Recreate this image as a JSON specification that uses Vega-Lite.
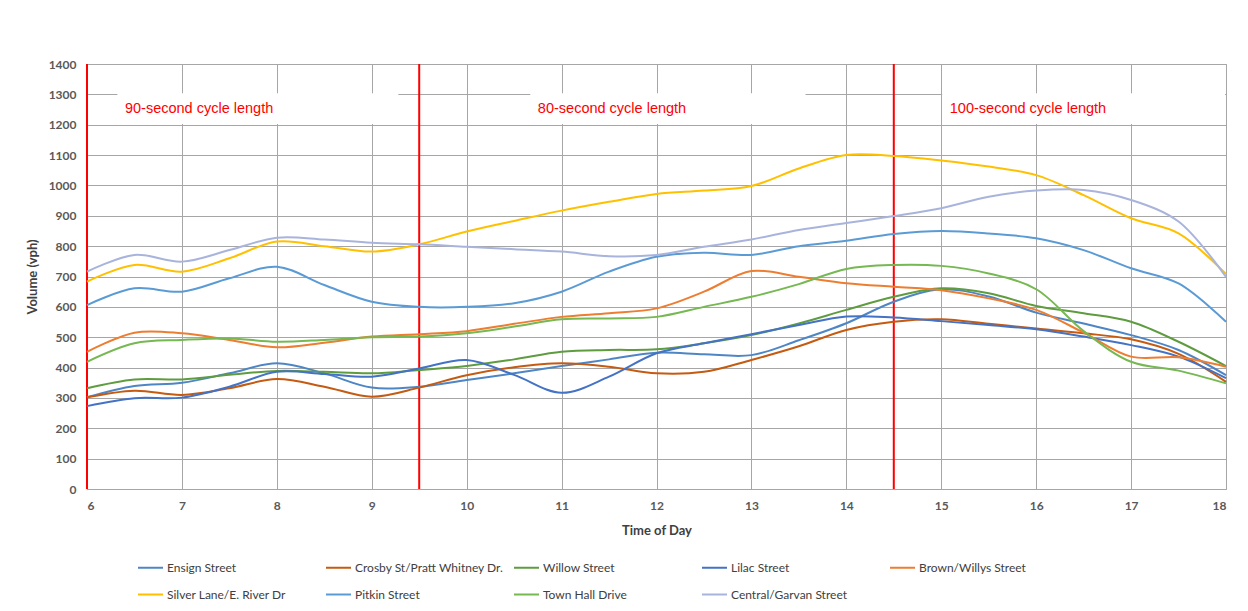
{
  "$schema": "https://vega.github.io/schema/vega-lite/v6.json",
  "width": 1139,
  "height": 425,
  "autosize": {"type": "none"},
  "padding": {"left": 87, "top": 64, "right": 22, "bottom": 122},
  "background": "white",
  "config": {
    "font": "Lato",
    "view": {"stroke": "#a6a6a6", "strokeWidth": 1},
    "axis": {
      "grid": true,
      "gridColor": "#a6a6a6",
      "gridWidth": 1,
      "ticks": false,
      "domain": false,
      "labelFont": "Lato",
      "labelFontWeight": "bold",
      "labelFontSize": 12,
      "labelColor": "#595959",
      "titleFont": "Lato",
      "titleFontWeight": "bold",
      "titleFontSize": 13,
      "titleColor": "#404040"
    },
    "axisX": {"tickCount": 12, "labelPadding": 11, "titlePadding": 13},
    "axisY": {"tickCount": 14, "labelPadding": 11, "titlePadding": 9}
  },
  "datasets": {
    "series": [
      {"s":"Ensign Street","t":6,"v":302},{"s":"Ensign Street","t":6.5,"v":339},{"s":"Ensign Street","t":7,"v":350},{"s":"Ensign Street","t":7.5,"v":381},{"s":"Ensign Street","t":8,"v":414},{"s":"Ensign Street","t":8.5,"v":381},{"s":"Ensign Street","t":9,"v":334},{"s":"Ensign Street","t":9.5,"v":337},{"s":"Ensign Street","t":10,"v":359},{"s":"Ensign Street","t":10.5,"v":381},{"s":"Ensign Street","t":11,"v":405},{"s":"Ensign Street","t":11.5,"v":427},{"s":"Ensign Street","t":12,"v":449},{"s":"Ensign Street","t":12.5,"v":444},{"s":"Ensign Street","t":13,"v":441},{"s":"Ensign Street","t":13.5,"v":490},{"s":"Ensign Street","t":14,"v":546},{"s":"Ensign Street","t":14.5,"v":617},{"s":"Ensign Street","t":15,"v":658},{"s":"Ensign Street","t":15.5,"v":634},{"s":"Ensign Street","t":16,"v":581},{"s":"Ensign Street","t":16.5,"v":545},{"s":"Ensign Street","t":17,"v":507},{"s":"Ensign Street","t":17.5,"v":458},{"s":"Ensign Street","t":18,"v":375},
      {"s":"Crosby St/Pratt Whitney Dr.","t":6,"v":302},{"s":"Crosby St/Pratt Whitney Dr.","t":6.5,"v":324},{"s":"Crosby St/Pratt Whitney Dr.","t":7,"v":310},{"s":"Crosby St/Pratt Whitney Dr.","t":7.5,"v":332},{"s":"Crosby St/Pratt Whitney Dr.","t":8,"v":362},{"s":"Crosby St/Pratt Whitney Dr.","t":8.5,"v":337},{"s":"Crosby St/Pratt Whitney Dr.","t":9,"v":304},{"s":"Crosby St/Pratt Whitney Dr.","t":9.5,"v":334},{"s":"Crosby St/Pratt Whitney Dr.","t":10,"v":375},{"s":"Crosby St/Pratt Whitney Dr.","t":10.5,"v":401},{"s":"Crosby St/Pratt Whitney Dr.","t":11,"v":414},{"s":"Crosby St/Pratt Whitney Dr.","t":11.5,"v":403},{"s":"Crosby St/Pratt Whitney Dr.","t":12,"v":381},{"s":"Crosby St/Pratt Whitney Dr.","t":12.5,"v":386},{"s":"Crosby St/Pratt Whitney Dr.","t":13,"v":425},{"s":"Crosby St/Pratt Whitney Dr.","t":13.5,"v":470},{"s":"Crosby St/Pratt Whitney Dr.","t":14,"v":524},{"s":"Crosby St/Pratt Whitney Dr.","t":14.5,"v":551},{"s":"Crosby St/Pratt Whitney Dr.","t":15,"v":559},{"s":"Crosby St/Pratt Whitney Dr.","t":15.5,"v":544},{"s":"Crosby St/Pratt Whitney Dr.","t":16,"v":529},{"s":"Crosby St/Pratt Whitney Dr.","t":16.5,"v":513},{"s":"Crosby St/Pratt Whitney Dr.","t":17,"v":493},{"s":"Crosby St/Pratt Whitney Dr.","t":17.5,"v":445},{"s":"Crosby St/Pratt Whitney Dr.","t":18,"v":353},
      {"s":"Willow Street","t":6,"v":332},{"s":"Willow Street","t":6.5,"v":361},{"s":"Willow Street","t":7,"v":361},{"s":"Willow Street","t":7.5,"v":376},{"s":"Willow Street","t":8,"v":389},{"s":"Willow Street","t":8.5,"v":386},{"s":"Willow Street","t":9,"v":381},{"s":"Willow Street","t":9.5,"v":392},{"s":"Willow Street","t":10,"v":405},{"s":"Willow Street","t":10.5,"v":427},{"s":"Willow Street","t":11,"v":452},{"s":"Willow Street","t":11.5,"v":458},{"s":"Willow Street","t":12,"v":460},{"s":"Willow Street","t":12.5,"v":480},{"s":"Willow Street","t":13,"v":507},{"s":"Willow Street","t":13.5,"v":545},{"s":"Willow Street","t":14,"v":590},{"s":"Willow Street","t":14.5,"v":633},{"s":"Willow Street","t":15,"v":661},{"s":"Willow Street","t":15.5,"v":645},{"s":"Willow Street","t":16,"v":603},{"s":"Willow Street","t":16.5,"v":579},{"s":"Willow Street","t":17,"v":551},{"s":"Willow Street","t":17.5,"v":485},{"s":"Willow Street","t":18,"v":405},
      {"s":"Lilac Street","t":6,"v":273},{"s":"Lilac Street","t":6.5,"v":299},{"s":"Lilac Street","t":7,"v":301},{"s":"Lilac Street","t":7.5,"v":337},{"s":"Lilac Street","t":8,"v":386},{"s":"Lilac Street","t":8.5,"v":379},{"s":"Lilac Street","t":9,"v":370},{"s":"Lilac Street","t":9.5,"v":397},{"s":"Lilac Street","t":10,"v":425},{"s":"Lilac Street","t":10.5,"v":376},{"s":"Lilac Street","t":11,"v":317},{"s":"Lilac Street","t":11.5,"v":370},{"s":"Lilac Street","t":12,"v":447},{"s":"Lilac Street","t":12.5,"v":480},{"s":"Lilac Street","t":13,"v":510},{"s":"Lilac Street","t":13.5,"v":540},{"s":"Lilac Street","t":14,"v":568},{"s":"Lilac Street","t":14.5,"v":565},{"s":"Lilac Street","t":15,"v":553},{"s":"Lilac Street","t":15.5,"v":540},{"s":"Lilac Street","t":16,"v":526},{"s":"Lilac Street","t":16.5,"v":502},{"s":"Lilac Street","t":17,"v":474},{"s":"Lilac Street","t":17.5,"v":436},{"s":"Lilac Street","t":18,"v":365},
      {"s":"Brown/Willys Street","t":6,"v":452},{"s":"Brown/Willys Street","t":6.5,"v":515},{"s":"Brown/Willys Street","t":7,"v":513},{"s":"Brown/Willys Street","t":7.5,"v":491},{"s":"Brown/Willys Street","t":8,"v":467},{"s":"Brown/Willys Street","t":8.5,"v":482},{"s":"Brown/Willys Street","t":9,"v":502},{"s":"Brown/Willys Street","t":9.5,"v":510},{"s":"Brown/Willys Street","t":10,"v":520},{"s":"Brown/Willys Street","t":10.5,"v":544},{"s":"Brown/Willys Street","t":11,"v":567},{"s":"Brown/Willys Street","t":11.5,"v":579},{"s":"Brown/Willys Street","t":12,"v":595},{"s":"Brown/Willys Street","t":12.5,"v":650},{"s":"Brown/Willys Street","t":13,"v":718},{"s":"Brown/Willys Street","t":13.5,"v":699},{"s":"Brown/Willys Street","t":14,"v":678},{"s":"Brown/Willys Street","t":14.5,"v":666},{"s":"Brown/Willys Street","t":15,"v":655},{"s":"Brown/Willys Street","t":15.5,"v":628},{"s":"Brown/Willys Street","t":16,"v":590},{"s":"Brown/Willys Street","t":16.5,"v":515},{"s":"Brown/Willys Street","t":17,"v":436},{"s":"Brown/Willys Street","t":17.5,"v":434},{"s":"Brown/Willys Street","t":18,"v":403},
      {"s":"Silver Lane/E. River Dr","t":6,"v":683},{"s":"Silver Lane/E. River Dr","t":6.5,"v":738},{"s":"Silver Lane/E. River Dr","t":7,"v":716},{"s":"Silver Lane/E. River Dr","t":7.5,"v":760},{"s":"Silver Lane/E. River Dr","t":8,"v":815},{"s":"Silver Lane/E. River Dr","t":8.5,"v":800},{"s":"Silver Lane/E. River Dr","t":9,"v":782},{"s":"Silver Lane/E. River Dr","t":9.5,"v":806},{"s":"Silver Lane/E. River Dr","t":10,"v":848},{"s":"Silver Lane/E. River Dr","t":10.5,"v":883},{"s":"Silver Lane/E. River Dr","t":11,"v":917},{"s":"Silver Lane/E. River Dr","t":11.5,"v":946},{"s":"Silver Lane/E. River Dr","t":12,"v":972},{"s":"Silver Lane/E. River Dr","t":12.5,"v":983},{"s":"Silver Lane/E. River Dr","t":13,"v":998},{"s":"Silver Lane/E. River Dr","t":13.5,"v":1056},{"s":"Silver Lane/E. River Dr","t":14,"v":1100},{"s":"Silver Lane/E. River Dr","t":14.5,"v":1097},{"s":"Silver Lane/E. River Dr","t":15,"v":1082},{"s":"Silver Lane/E. River Dr","t":15.5,"v":1062},{"s":"Silver Lane/E. River Dr","t":16,"v":1034},{"s":"Silver Lane/E. River Dr","t":16.5,"v":968},{"s":"Silver Lane/E. River Dr","t":17,"v":892},{"s":"Silver Lane/E. River Dr","t":17.5,"v":842},{"s":"Silver Lane/E. River Dr","t":18,"v":708},
      {"s":"Pitkin Street","t":6,"v":606},{"s":"Pitkin Street","t":6.5,"v":661},{"s":"Pitkin Street","t":7,"v":650},{"s":"Pitkin Street","t":7.5,"v":694},{"s":"Pitkin Street","t":8,"v":732},{"s":"Pitkin Street","t":8.5,"v":672},{"s":"Pitkin Street","t":9,"v":617},{"s":"Pitkin Street","t":9.5,"v":600},{"s":"Pitkin Street","t":10,"v":600},{"s":"Pitkin Street","t":10.5,"v":612},{"s":"Pitkin Street","t":11,"v":650},{"s":"Pitkin Street","t":11.5,"v":716},{"s":"Pitkin Street","t":12,"v":765},{"s":"Pitkin Street","t":12.5,"v":778},{"s":"Pitkin Street","t":13,"v":771},{"s":"Pitkin Street","t":13.5,"v":800},{"s":"Pitkin Street","t":14,"v":818},{"s":"Pitkin Street","t":14.5,"v":840},{"s":"Pitkin Street","t":15,"v":850},{"s":"Pitkin Street","t":15.5,"v":842},{"s":"Pitkin Street","t":16,"v":826},{"s":"Pitkin Street","t":16.5,"v":787},{"s":"Pitkin Street","t":17,"v":727},{"s":"Pitkin Street","t":17.5,"v":677},{"s":"Pitkin Street","t":18,"v":551},
      {"s":"Town Hall Drive","t":6,"v":419},{"s":"Town Hall Drive","t":6.5,"v":480},{"s":"Town Hall Drive","t":7,"v":491},{"s":"Town Hall Drive","t":7.5,"v":496},{"s":"Town Hall Drive","t":8,"v":485},{"s":"Town Hall Drive","t":8.5,"v":491},{"s":"Town Hall Drive","t":9,"v":500},{"s":"Town Hall Drive","t":9.5,"v":502},{"s":"Town Hall Drive","t":10,"v":513},{"s":"Town Hall Drive","t":10.5,"v":535},{"s":"Town Hall Drive","t":11,"v":559},{"s":"Town Hall Drive","t":11.5,"v":562},{"s":"Town Hall Drive","t":12,"v":567},{"s":"Town Hall Drive","t":12.5,"v":600},{"s":"Town Hall Drive","t":13,"v":633},{"s":"Town Hall Drive","t":13.5,"v":675},{"s":"Town Hall Drive","t":14,"v":725},{"s":"Town Hall Drive","t":14.5,"v":738},{"s":"Town Hall Drive","t":15,"v":735},{"s":"Town Hall Drive","t":15.5,"v":710},{"s":"Town Hall Drive","t":16,"v":658},{"s":"Town Hall Drive","t":16.5,"v":520},{"s":"Town Hall Drive","t":17,"v":419},{"s":"Town Hall Drive","t":17.5,"v":390},{"s":"Town Hall Drive","t":18,"v":348},
      {"s":"Central/Garvan Street","t":6,"v":716},{"s":"Central/Garvan Street","t":6.5,"v":771},{"s":"Central/Garvan Street","t":7,"v":749},{"s":"Central/Garvan Street","t":7.5,"v":787},{"s":"Central/Garvan Street","t":8,"v":828},{"s":"Central/Garvan Street","t":8.5,"v":822},{"s":"Central/Garvan Street","t":9,"v":811},{"s":"Central/Garvan Street","t":9.5,"v":806},{"s":"Central/Garvan Street","t":10,"v":798},{"s":"Central/Garvan Street","t":10.5,"v":790},{"s":"Central/Garvan Street","t":11,"v":782},{"s":"Central/Garvan Street","t":11.5,"v":767},{"s":"Central/Garvan Street","t":12,"v":771},{"s":"Central/Garvan Street","t":12.5,"v":798},{"s":"Central/Garvan Street","t":13,"v":822},{"s":"Central/Garvan Street","t":13.5,"v":853},{"s":"Central/Garvan Street","t":14,"v":876},{"s":"Central/Garvan Street","t":14.5,"v":899},{"s":"Central/Garvan Street","t":15,"v":925},{"s":"Central/Garvan Street","t":15.5,"v":963},{"s":"Central/Garvan Street","t":16,"v":983},{"s":"Central/Garvan Street","t":16.5,"v":985},{"s":"Central/Garvan Street","t":17,"v":952},{"s":"Central/Garvan Street","t":17.5,"v":881},{"s":"Central/Garvan Street","t":18,"v":699}
    ],
    "periods": [
      {"x1": 6.32, "x2": 9.28, "y1": 1202, "y2": 1304, "tx": 6.4, "ty": 1252, "label": "90-second cycle length"},
      {"x1": 10.67, "x2": 13.57, "y1": 1202, "y2": 1304, "tx": 10.75, "ty": 1252, "label": "80-second cycle length"},
      {"x1": 15.01, "x2": 17.99, "y1": 1202, "y2": 1304, "tx": 15.09, "ty": 1252, "label": "100-second cycle length"}
    ],
    "dividers": [{"t": 6}, {"t": 9.5}, {"t": 14.5}]
  },
  "layer": [
    {
      "data": {"name": "periods"},
      "mark": {"type": "rect", "fill": "white", "strokeWidth": 0},
      "encoding": {
        "x": {"field": "x1", "type": "quantitative", "title": "Time of Day", "scale": {"domain": [6, 18], "nice": false}},
        "x2": {"field": "x2"},
        "y": {"field": "y1", "type": "quantitative", "title": "Volume (vph)", "scale": {"domain": [0, 1400], "nice": false}, "axis": {"format": "d"}},
        "y2": {"field": "y2"}
      }
    },
    {
      "data": {"name": "dividers"},
      "mark": {"type": "rule", "color": "#ff0000", "strokeWidth": 2},
      "encoding": {
        "x": {"field": "t", "type": "quantitative", "title": "Time of Day"}
      }
    },
    {
      "data": {"name": "periods"},
      "mark": {"type": "text", "align": "left", "baseline": "middle", "font": "Liberation Sans", "fontSize": 14.5, "color": "#ff0000"},
      "encoding": {
        "x": {"field": "tx", "type": "quantitative", "title": "Time of Day"},
        "y": {"field": "ty", "type": "quantitative", "title": "Volume (vph)", "axis": {"format": "d"}},
        "text": {"field": "label"}
      }
    },
    {
      "data": {"name": "series"},
      "mark": {"type": "line", "interpolate": "catmull-rom", "strokeWidth": 2},
      "encoding": {
        "x": {"field": "t", "type": "quantitative", "title": "Time of Day"},
        "y": {"field": "v", "type": "quantitative", "title": "Volume (vph)", "axis": {"format": "d"}},
        "color": {
          "field": "s",
          "type": "nominal",
          "scale": {
            "domain": ["Ensign Street", "Crosby St/Pratt Whitney Dr.", "Willow Street", "Lilac Street", "Brown/Willys Street", "Silver Lane/E. River Dr", "Pitkin Street", "Town Hall Drive", "Central/Garvan Street"],
            "range": ["#4e86c5", "#c55a11", "#5e9c3f", "#4472c4", "#ed7d31", "#ffc000", "#5b9bd5", "#76b852", "#a9b4dc"]
          },
          "legend": {
            "title": null,
            "orient": "none",
            "legendX": 50,
            "legendY": 490,
            "direction": "horizontal",
            "columns": 5,
            "gridAlign": "all",
            "columnPadding": 6,
            "rowPadding": 7,
            "symbolType": "stroke",
            "symbolSize": 625,
            "symbolStrokeWidth": 2,
            "labelFont": "Lato",
            "labelFontSize": 12,
            "labelColor": "#404040",
            "labelOffset": 3,
            "labelLimit": 300
          }
        },
        "order": {"field": "t", "type": "quantitative"}
      }
    }
  ]
}
